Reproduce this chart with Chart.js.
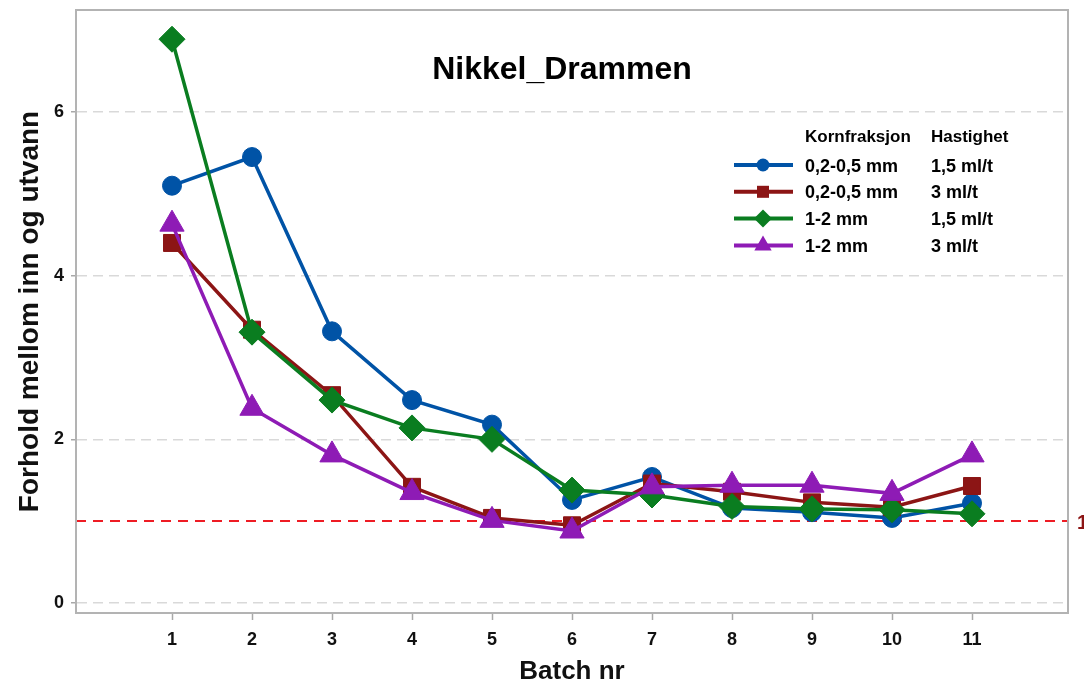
<!DOCTYPE html>
<html>
<head>
<meta charset="utf-8">
<script src="https://cdn.jsdelivr.net/npm/chart.js@4.4.0/dist/chart.umd.min.js"></script>
<style>
  html, body { margin: 0; padding: 0; background: #fff; }
  #wrap { width: 1084px; height: 689px; }
</style>
</head>
<body>
<div id="wrap"><canvas id="c" width="1084" height="689"></canvas></div>
<script>
// ---- data ----
const batches = [1, 2, 3, 4, 5, 6, 7, 8, 9, 10, 11];
const tickLabels = ['1', '2', '3', '4', '5', '6', '7', '8', '9', '10', '11'];
const yTicks = [0, 2, 4, 6];
const blueFine15 = [5.10, 5.45, 3.32, 2.48, 2.18, 1.26, 1.54, 1.16, 1.11, 1.04, 1.22];
const redFine3 = [4.40, 3.34, 2.54, 1.42, 1.04, 0.95, 1.46, 1.36, 1.23, 1.17, 1.43];
const greenCoarse15 = [6.89, 3.31, 2.48, 2.14, 2.00, 1.38, 1.32, 1.18, 1.15, 1.14, 1.09];
const purpleCoarse3 = [4.63, 2.38, 1.81, 1.35, 1.01, 0.88, 1.42, 1.44, 1.44, 1.34, 1.81];
const kornfraksjon = ['0,2-0,5 mm', '0,2-0,5 mm', '1-2 mm', '1-2 mm'];
const hastighet = ['1,5 ml/t', '3 ml/t', '1,5 ml/t', '3 ml/t'];
const refValue = 1;
const title = 'Nikkel_Drammen';

const colors = ['#0053A6', '#8C1515', '#0A7D20', '#8E1BB5'];
const styles = ['circle', 'rect', 'rectRot', 'triangle'];
const radii = [9.5, 12, 13, 14];
const legendRadii = [6.5, 8.5, 9, 10];
const seriesList = [blueFine15, redFine3, greenCoarse15, purpleCoarse3];

const FONT = '"Liberation Sans", Arial, sans-serif';

function mkData(arr) { return arr.map((v, i) => ({ x: batches[i], y: v })); }

const datasets = seriesList.map((arr, i) => ({
  label: kornfraksjon[i] + ' ' + hastighet[i],
  data: mkData(arr),
  borderColor: colors[i],
  backgroundColor: colors[i],
  borderWidth: 3.5,
  pointStyle: styles[i],
  pointRadius: radii[i],
  pointBorderWidth: 1,
  pointBorderColor: colors[i],
  pointBackgroundColor: colors[i],
  tension: 0,
  clip: false,
  order: 4 - i
}));

function drawMarker(ctx, style, x, y, r) {
  ctx.beginPath();
  if (style === 'circle') {
    ctx.arc(x, y, r, 0, Math.PI * 2);
  } else if (style === 'rect') {
    const s = r * Math.SQRT1_2;
    ctx.rect(x - s, y - s, 2 * s, 2 * s);
  } else if (style === 'rectRot') {
    ctx.moveTo(x - r, y); ctx.lineTo(x, y - r); ctx.lineTo(x + r, y); ctx.lineTo(x, y + r);
    ctx.closePath();
  } else if (style === 'triangle') {
    ctx.moveTo(x, y - r);
    ctx.lineTo(x + r * Math.sqrt(3) / 2, y + r / 2);
    ctx.lineTo(x - r * Math.sqrt(3) / 2, y + r / 2);
    ctx.closePath();
  }
  ctx.fill();
}

const decorPlugin = {
  id: 'decor',
  beforeDatasetsDraw(chart) {
    const { ctx, chartArea: a, scales } = chart;
    const yy = Math.round(scales.y.getPixelForValue(refValue));
    ctx.save();
    ctx.strokeStyle = '#EE1C24';
    ctx.lineWidth = 2;
    ctx.setLineDash([10, 7]);
    ctx.beginPath();
    ctx.moveTo(a.left, yy);
    ctx.lineTo(a.right, yy);
    ctx.stroke();
    ctx.setLineDash([]);
    // frame
    ctx.strokeStyle = '#B3B3B3';
    ctx.lineWidth = 2;
    ctx.strokeRect(a.left, a.top, a.right - a.left, a.bottom - a.top);
    // ref label
    ctx.fillStyle = '#8C1515';
    ctx.font = 'bold 20px ' + FONT;
    ctx.textBaseline = 'alphabetic';
    ctx.textAlign = 'left';
    ctx.fillText(String(refValue), 1077, yy + 8);
    // title
    ctx.fillStyle = '#000';
    ctx.font = 'bold 32px ' + FONT;
    ctx.textAlign = 'center';
    ctx.fillText(title, 562, 79);
    ctx.restore();
  },
  afterDatasetsDraw(chart) {
    const { ctx } = chart;
    ctx.save();
    ctx.fillStyle = '#000';
    ctx.font = 'bold 17px ' + FONT;
    ctx.textAlign = 'left';
    ctx.textBaseline = 'alphabetic';
    ctx.fillText('Kornfraksjon', 805, 142);
    ctx.fillText('Hastighet', 931, 142);
    for (let i = 0; i < 4; i++) {
      const ly = 165 + 26.8 * i;
      ctx.strokeStyle = colors[i];
      ctx.lineWidth = 4;
      ctx.beginPath();
      ctx.moveTo(734, ly);
      ctx.lineTo(793, ly);
      ctx.stroke();
      ctx.fillStyle = colors[i];
      drawMarker(ctx, styles[i], 763, ly, legendRadii[i]);
      ctx.fillStyle = '#000';
      ctx.font = 'bold 18px ' + FONT;
      ctx.fillText(kornfraksjon[i], 805, ly + 6.5);
      ctx.fillText(hastighet[i], 931, ly + 6.5);
    }
    ctx.restore();
  }
};

new Chart(document.getElementById('c'), {
  type: 'line',
  data: { datasets },
  plugins: [decorPlugin],
  options: {
    responsive: false,
    devicePixelRatio: 1,
    animation: false,
    layout: { autoPadding: false, padding: { top: 10, right: 16, left: 0, bottom: 0 } },
    plugins: { legend: { display: false }, tooltip: { enabled: false }, title: { display: false } },
    scales: {
      x: {
        type: 'linear',
        min: -0.2,
        max: 12.2,
        afterBuildTicks: (s) => { s.ticks = batches.map(v => ({ value: v })); },
        afterFit: (s) => { s.height = 76; s.paddingLeft = 0; s.paddingRight = 0; },
        grid: { display: true, drawOnChartArea: false, drawTicks: true, tickLength: 7, tickColor: '#A8A8A8', tickWidth: 1.5 },
        border: { display: true, color: '#B3B3B3', width: 2 },
        ticks: {
          padding: 9,
          color: '#111',
          font: { family: FONT, size: 18, weight: 'bold' },
          maxRotation: 0,
          autoSkip: false,
          callback: (v) => { const i = batches.indexOf(v); return i >= 0 ? tickLabels[i] : ''; }
        },
        title: { display: true, text: 'Batch nr', color: '#111', font: { family: FONT, size: 26, weight: 'bold' }, padding: { top: 0, bottom: 2 } }
      },
      y: {
        type: 'linear',
        min: -0.122,
        max: 7.247,
        afterBuildTicks: (s) => { s.ticks = yTicks.map(v => ({ value: v })); },
        afterFit: (s) => { s.width = 76; s.paddingTop = 0; s.paddingBottom = 0; },
        grid: { display: true, drawOnChartArea: true, drawTicks: true, tickLength: 5, color: '#D9D9D9', lineWidth: 1.5, tickColor: '#A8A8A8', tickWidth: 1.5, tickBorderDash: [] },
        border: { display: true, color: '#B3B3B3', width: 2, dash: [10, 6] },
        ticks: {
          padding: 7,
          color: '#111',
          font: { family: FONT, size: 18, weight: 'bold' },
          callback: (v) => String(v)
        },
        title: { display: true, text: 'Forhold mellom inn og utvann', color: '#111', font: { family: FONT, size: 28, weight: 'bold' }, padding: { top: 13, bottom: 0 } }
      }
    }
  }
});
</script>
</body>
</html>
